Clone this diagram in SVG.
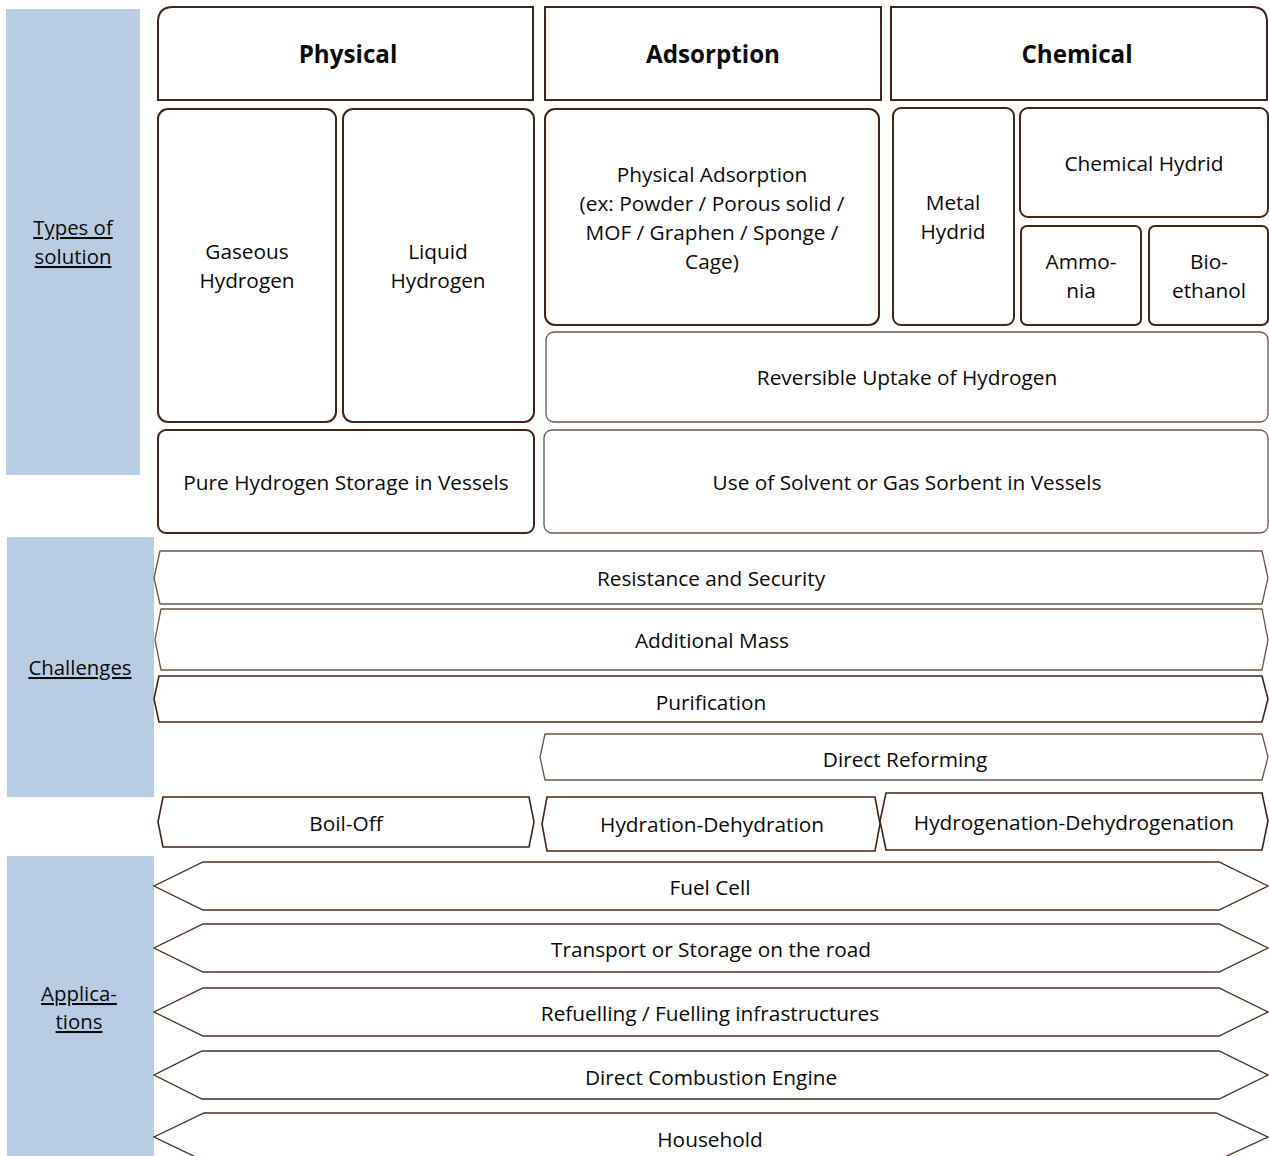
<svg xmlns="http://www.w3.org/2000/svg" width="1269" height="1156" viewBox="0 0 1269 1156">
  <style>
    text { font-family: "Open Sans", "Liberation Sans", sans-serif; font-size: 20.8px; fill: #0a0a0a; text-anchor: middle; }
    .hdr { font-weight: bold; font-size: 24.2px; }
    .side { fill: #b8cce4; }
    .lbl { text-decoration: underline; font-size: 20.4px; }
    .box { fill: #fff; stroke: #3f2516; stroke-width: 2; }
    .lite { fill: #fff; stroke: #6b5446; stroke-width: 1.3; }
    .hex { fill: #fff; stroke: #6b5446; stroke-width: 1.3; }
    .hexd { fill: #fff; stroke: #3f2516; stroke-width: 1.6; }
    .arr { fill: #fff; stroke: #4a2e1e; stroke-width: 1.3; }
  </style>

  <!-- side category bands -->
  <g id="band-types">
    <rect class="side" x="6" y="9" width="134" height="466"/>
    <text class="lbl" x="73" y="235">Types of</text>
    <text class="lbl" x="73" y="264">solution</text>
  </g>
  <g id="band-challenges">
    <rect class="side" x="7" y="537" width="147" height="260"/>
    <text class="lbl" x="80" y="675">Challenges</text>
  </g>
  <g id="band-applications">
    <rect class="side" x="7" y="856" width="147" height="300"/>
    <text class="lbl" x="79" y="1001">Applica-</text>
    <text class="lbl" x="79" y="1029">tions</text>
  </g>

  <!-- column headers -->
  <g id="hdr-physical">
    <path class="box" d="M158,100 V22 Q158,7 173,7 H533 V100 Z"/>
    <text class="hdr" x="348" y="63">Physical</text>
  </g>
  <g id="hdr-adsorption">
    <rect class="box" x="545" y="7" width="336" height="93"/>
    <text class="hdr" x="713" y="63">Adsorption</text>
  </g>
  <g id="hdr-chemical">
    <path class="box" d="M891,100 V7 H1252 Q1267,7 1267,22 V100 Z"/>
    <text class="hdr" x="1077" y="63">Chemical</text>
  </g>

  <!-- storage types -->
  <g id="gaseous">
    <rect class="box" x="158" y="109" width="178" height="313" rx="10"/>
    <text x="247" y="259">Gaseous</text>
    <text x="247" y="288">Hydrogen</text>
  </g>
  <g id="liquid">
    <rect class="box" x="343" y="109" width="191" height="313" rx="10"/>
    <text x="438" y="259">Liquid</text>
    <text x="438" y="288">Hydrogen</text>
  </g>
  <g id="phys-adsorption">
    <rect class="box" x="545" y="109" width="334" height="216" rx="10"/>
    <text x="712" y="182">Physical Adsorption</text>
    <text x="712" y="211">(ex: Powder / Porous solid /</text>
    <text x="712" y="240">MOF / Graphen / Sponge /</text>
    <text x="712" y="269">Cage)</text>
  </g>
  <g id="metal-hydrid">
    <rect class="box" x="893" y="108" width="121" height="217" rx="8"/>
    <text x="953" y="210">Metal</text>
    <text x="953" y="239">Hydrid</text>
  </g>
  <g id="chemical-hydrid">
    <rect class="box" x="1020" y="108" width="248" height="109" rx="8"/>
    <text x="1144" y="171">Chemical Hydrid</text>
  </g>
  <g id="ammonia">
    <rect class="box" x="1021" y="226" width="120" height="99" rx="6"/>
    <text x="1081" y="269">Ammo-</text>
    <text x="1081" y="298">nia</text>
  </g>
  <g id="bioethanol">
    <rect class="box" x="1149" y="226" width="119" height="99" rx="6"/>
    <text x="1209" y="269">Bio-</text>
    <text x="1209" y="298">ethanol</text>
  </g>
  <g id="reversible">
    <rect class="lite" x="546" y="332" width="722" height="90" rx="8"/>
    <text x="907" y="385">Reversible Uptake of Hydrogen</text>
  </g>
  <g id="pure-storage">
    <rect class="box" x="158" y="430" width="376" height="103" rx="8"/>
    <text x="346" y="490">Pure Hydrogen Storage in Vessels</text>
  </g>
  <g id="solvent">
    <rect class="lite" x="544" y="430" width="724" height="103" rx="8"/>
    <text x="907" y="490">Use of Solvent or Gas Sorbent in Vessels</text>
  </g>

  <!-- challenges -->
  <g id="resistance">
    <polygon class="hex" points="160,551 1262,551 1268,578 1262,604 160,604 154,578"/>
    <text x="711" y="586">Resistance and Security</text>
  </g>
  <g id="mass">
    <polygon class="hex" points="161,609 1262,609 1268,640 1262,670 161,670 155,640"/>
    <text x="712" y="648">Additional Mass</text>
  </g>
  <g id="purification">
    <polygon class="hexd" points="159,676 1262,676 1268,699 1262,722 159,722 154,699"/>
    <text x="711" y="710">Purification</text>
  </g>
  <g id="reforming">
    <polygon class="hex" points="545,734 1262,734 1268,757 1262,780 545,780 540,757"/>
    <text x="905" y="767">Direct Reforming</text>
  </g>
  <g id="boiloff">
    <polygon class="hexd" points="163,797 529,797 534,822 529,847 163,847 158,822"/>
    <text x="346" y="831">Boil-Off</text>
  </g>
  <g id="hydration">
    <polygon class="hexd" points="547,797 875,797 880,824 875,851 547,851 542,824"/>
    <text x="712" y="832">Hydration-Dehydration</text>
  </g>
  <g id="hydrogenation">
    <polygon class="hexd" points="886,793 1262,793 1268,821 1262,850 886,850 880,821"/>
    <text x="1074" y="830">Hydrogenation-Dehydrogenation</text>
  </g>

  <!-- applications -->
  <g id="fuelcell">
    <polygon class="arr" points="203,862 1219,862 1268,886 1219,910 203,910 154,886"/>
    <text x="710" y="895">Fuel Cell</text>
  </g>
  <g id="transport">
    <polygon class="arr" points="203,924 1219,924 1268,948 1219,972 203,972 154,948"/>
    <text x="711" y="957">Transport or Storage on the road</text>
  </g>
  <g id="refuelling">
    <polygon class="arr" points="203,988 1219,988 1268,1012 1219,1036 203,1036 154,1012"/>
    <text x="710" y="1021">Refuelling / Fuelling infrastructures</text>
  </g>
  <g id="combustion">
    <polygon class="arr" points="202,1051 1219,1051 1268,1075 1219,1099 202,1099 154,1075"/>
    <text x="711" y="1085">Direct Combustion Engine</text>
  </g>
  <g id="household">
    <polygon class="arr" points="204,1113 1216,1113 1268,1137 1216,1161 204,1161 154,1137"/>
    <text x="710" y="1147">Household</text>
  </g>

  <g id="connectors"/>
</svg>
